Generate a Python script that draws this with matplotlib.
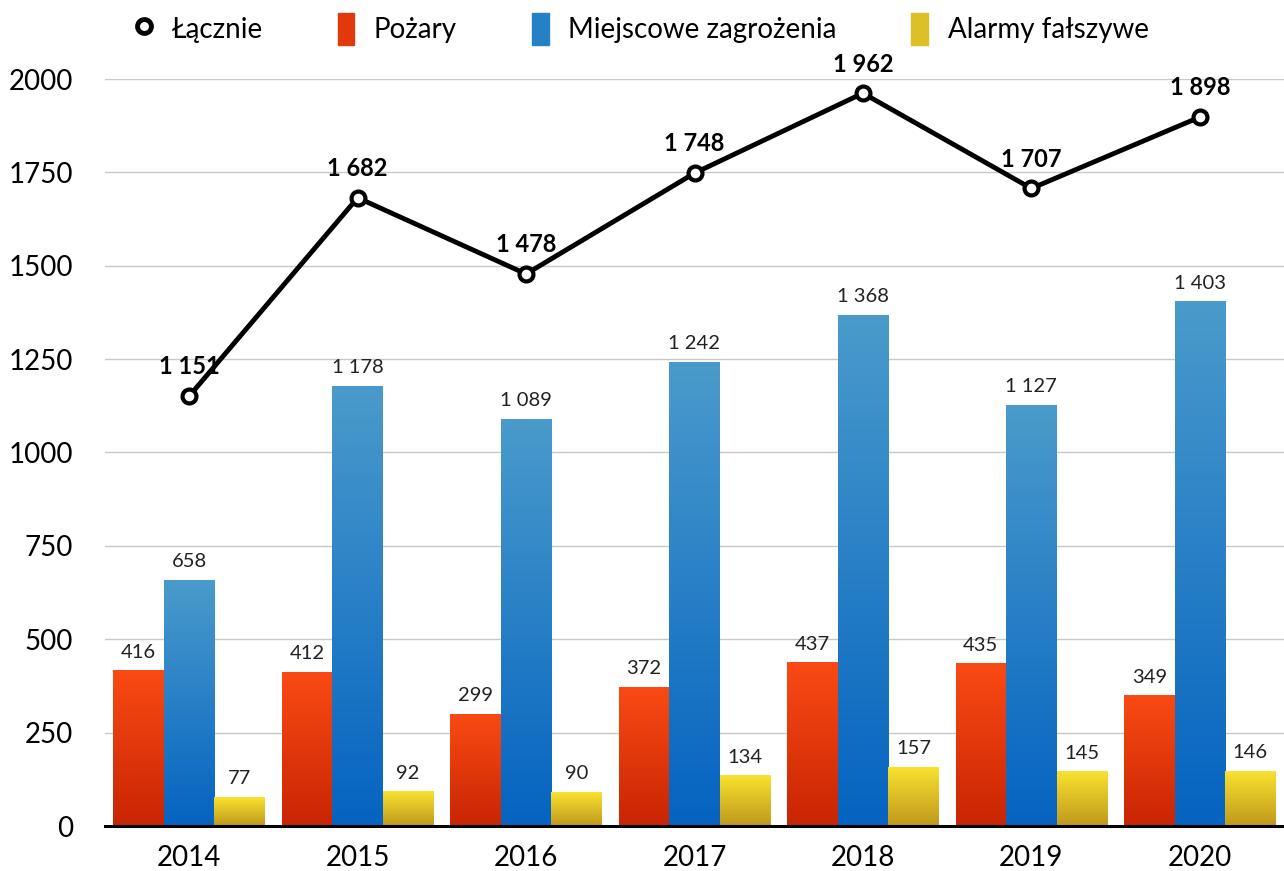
import numpy as np
import matplotlib
matplotlib.use("Agg")
import matplotlib.pyplot as plt
from matplotlib.lines import Line2D
from matplotlib.patches import Patch
from matplotlib.colors import LinearSegmentedColormap
from matplotlib.transforms import ScaledTranslation

plt.rcParams['font.family'] = ['Lato', 'DejaVu Sans']

years = ["2014", "2015", "2016", "2017", "2018", "2019", "2020"]
lacznie = [1151, 1682, 1478, 1748, 1962, 1707, 1898]
pozary = [416, 412, 299, 372, 437, 435, 349]
miejscowe = [658, 1178, 1089, 1242, 1368, 1127, 1403]
alarmy = [77, 92, 90, 134, 157, 145, 146]

# top colour, bottom colour of each gradient
grad = {"Pożary": ("#fa4a14", "#c82503"),
        "Miejscowe zagrożenia": ("#4a9bcb", "#0563c1"),
        "Alarmy fałszywe": ("#f9e22f", "#bf981d")}

def fmt(v):
    return f"{v:,}".replace(",", " ")

fig = plt.figure(figsize=(12.84, 8.71), dpi=100)
ax = fig.add_axes([105/1284, 1-826/871, 1-105/1284, (826-79)/871])
x = np.arange(len(years))
w = 0.3
grid = np.linspace(0, 1, 256).reshape(-1, 1)
shift = ScaledTranslation(0, 10/100, fig.dpi_scale_trans)
series = [("Pożary", pozary), ("Miejscowe zagrożenia", miejscowe), ("Alarmy fałszywe", alarmy)]
for off, (name, vals) in zip([-w, 0, w], series):
    top, bot = grad[name]
    cm = LinearSegmentedColormap.from_list(name, [bot, top])
    for xi, v in zip(x, vals):
        ax.imshow(grid, cmap=cm, origin="lower", aspect="auto",
                  extent=(xi+off-w/2, xi+off+w/2, 0, v), zorder=2)
        ax.text(xi+off, v, fmt(v), ha="center", va="bottom", fontsize=14.5, color="#222222",
                transform=ax.transData + shift)

ax.plot(x, lacznie, color="black", lw=3.5, marker="o", ms=10, mfc="white", mec="black", mew=3, zorder=5)
for xi, v in zip(x, lacznie):
    ax.annotate(fmt(v), (xi, v), xytext=(0, 21), textcoords="offset points",
                ha="center", va="center", fontsize=17, fontweight="bold", zorder=6)

ax.set_xlim(-0.5, 6.5)
ax.set_ylim(0, 2000)
ax.set_yticks(range(0, 2001, 250))
ax.set_xticks(x)
ax.set_xticklabels(years)
ax.tick_params(axis="both", length=0, labelsize=20)
ax.tick_params(axis="y", pad=23)
ax.tick_params(axis="x", pad=14)
ax.grid(axis="y", color="#c8c8c8", lw=1, zorder=0)
ax.set_axisbelow(True)
for s in ["left", "right", "top"]:
    ax.spines[s].set_visible(False)
ax.spines["bottom"].set_linewidth(2.2)
ax.spines["bottom"].set_zorder(7)

handles = [Line2D([], [], color="black", lw=0, marker="o", ms=10, mfc="white", mec="black", mew=3.5),
           Patch(color="#e03a0c"), Patch(color="#2580c6"), Patch(color="#dcc028")]
labels = ["Łącznie", "Pożary", "Miejscowe zagrożenia", "Alarmy fałszywe"]
fig.legend(handles, labels, loc="center", bbox_to_anchor=(0.5, 1-29/871), ncol=4, frameon=False,
           fontsize=20, handlelength=0.6, handleheight=1.4, columnspacing=2.7, handletextpad=0.7)

fig.savefig("out.png", dpi=100)
